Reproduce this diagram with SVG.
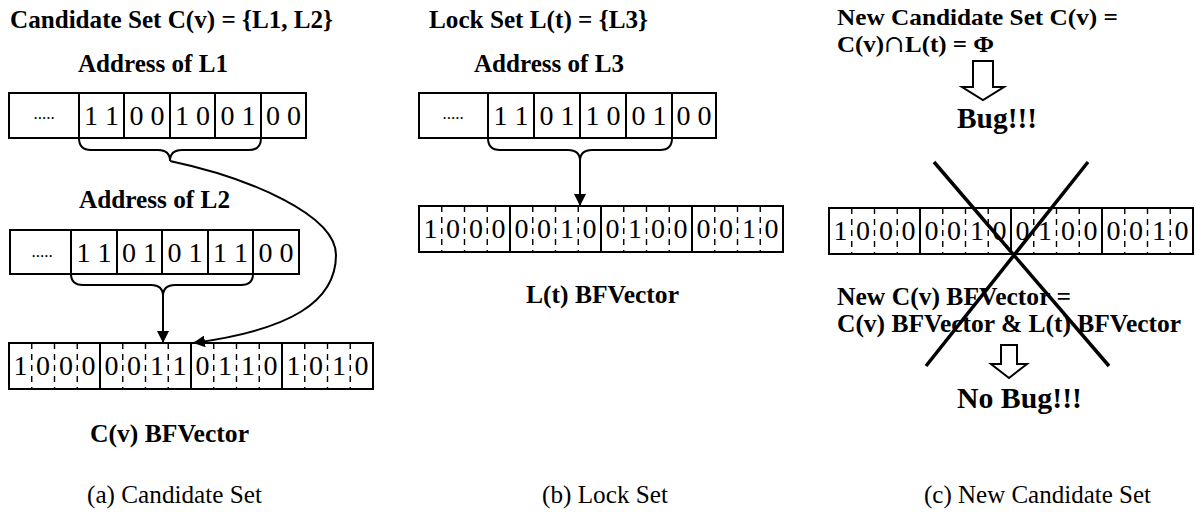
<svg xmlns="http://www.w3.org/2000/svg" xmlns:xlink="http://www.w3.org/1999/xlink" width="1196" height="512" viewBox="0 0 1196 512">
<style>
text{font-family:"Liberation Serif","Times New Roman",serif;fill:#000}
.b{font-weight:bold;font-size:25px}
.b2{font-weight:bold;font-size:24px}
.big{font-weight:bold;font-size:29.5px}
.cap{font-size:25px}
.bit{font-size:28px;text-anchor:middle}
.cell{font-size:28px;text-anchor:middle}
.dots{font-size:17px;text-anchor:middle}
.box{fill:#fff;stroke:#000;stroke-width:2}
.ln{fill:none;stroke:#000;stroke-width:2}
.dash{stroke:#000;stroke-width:1.4;stroke-dasharray:6 5}
.hollow{fill:#fff;stroke:#000;stroke-width:2;stroke-linejoin:miter}
.x{stroke:#000;stroke-width:3.5;fill:none}
</style>
<defs>
<marker id="ah" viewBox="0 0 12 12" refX="12" refY="6" markerWidth="12" markerHeight="12" markerUnits="userSpaceOnUse" orient="auto">
<path d="M0,0 L12,6 L0,12 z" fill="#000"/>
</marker>
<g id="grid">
<rect class="box" x="0" y="0" width="364" height="46"/>
<path class="ln" d="M91,0V46M182,0V46M273,0V46"/>
<path class="dash" d="M22.75,0V46M45.5,0V46M68.25,0V46M113.75,0V46M136.5,0V46M159.25,0V46M204.75,0V46M227.5,0V46M250.25,0V46M295.75,0V46M318.5,0V46M341.25,0V46"/>
</g>
</defs>

<g id="panel-a-title"><text class="b" x="10" y="28" textLength="323" lengthAdjust="spacingAndGlyphs">Candidate Set C(v) = {L1, L2}</text></g>
<g id="label-addr-l1"><text class="b" x="78" y="72" textLength="150" lengthAdjust="spacingAndGlyphs">Address of L1</text></g>
<g id="addr-l1">
<rect class="box" x="9" y="93" width="297" height="45"/>
<path class="ln" d="M79,93V138M124,93V138M170,93V138M215,93V138M261,93V138"/>
<text class="dots" x="44" y="119">.....</text>
<text class="cell" x="101.5" y="125">1 1</text>
<text class="cell" x="147" y="125">0 0</text>
<text class="cell" x="192.5" y="125">1 0</text>
<text class="cell" x="238" y="125">0 1</text>
<text class="cell" x="283.5" y="125">0 0</text>
</g>
<g id="label-addr-l2"><text class="b" x="79" y="208" textLength="151" lengthAdjust="spacingAndGlyphs">Address of L2</text></g>
<g id="addr-l2">
<rect class="box" x="10" y="230" width="289" height="44"/>
<path class="ln" d="M71,230V274M117,230V274M162,230V274M208,230V274M253,230V274"/>
<text class="dots" x="42" y="257">.....</text>
<text class="cell" x="94" y="262">1 1</text>
<text class="cell" x="139.5" y="262">0 1</text>
<text class="cell" x="185" y="262">0 1</text>
<text class="cell" x="230.5" y="262">1 1</text>
<text class="cell" x="276" y="262">0 0</text>
</g>
<g id="vector-cv">
<use xlink:href="#grid" x="9" y="343"/>
<g transform="translate(9,343)">
<text class="bit" x="11.4" y="32">1</text><text class="bit" x="34.1" y="32">0</text><text class="bit" x="56.9" y="32">0</text><text class="bit" x="79.6" y="32">0</text>
<text class="bit" x="102.4" y="32">0</text><text class="bit" x="125.1" y="32">0</text><text class="bit" x="147.9" y="32">1</text><text class="bit" x="170.6" y="32">1</text>
<text class="bit" x="193.4" y="32">0</text><text class="bit" x="216.1" y="32">1</text><text class="bit" x="238.9" y="32">1</text><text class="bit" x="261.6" y="32">0</text>
<text class="bit" x="284.4" y="32">1</text><text class="bit" x="307.1" y="32">0</text><text class="bit" x="329.9" y="32">1</text><text class="bit" x="352.6" y="32">0</text>
</g>
</g>
<g id="label-cv"><text class="b" x="90" y="442" textLength="159" lengthAdjust="spacingAndGlyphs">C(v) BFVector</text></g>
<g id="caption-a"><text class="cap" x="87" y="503" textLength="175" lengthAdjust="spacingAndGlyphs">(a) Candidate Set</text></g>

<g id="panel-b-title"><text class="b" x="429" y="28" textLength="219" lengthAdjust="spacingAndGlyphs">Lock Set L(t) = {L3}</text></g>
<g id="label-addr-l3"><text class="b" x="474" y="72" textLength="150" lengthAdjust="spacingAndGlyphs">Address of L3</text></g>
<g id="addr-l3">
<rect class="box" x="419" y="93" width="297" height="45"/>
<path class="ln" d="M488,93V138M534,93V138M580,93V138M626,93V138M672,93V138"/>
<text class="dots" x="453" y="119">.....</text>
<text class="cell" x="511" y="125">1 1</text>
<text class="cell" x="557" y="125">0 1</text>
<text class="cell" x="603" y="125">1 0</text>
<text class="cell" x="649" y="125">0 1</text>
<text class="cell" x="694" y="125">0 0</text>
</g>
<g id="vector-lt">
<use xlink:href="#grid" x="419" y="206"/>
<g transform="translate(419,206)">
<text class="bit" x="11.4" y="32">1</text><text class="bit" x="34.1" y="32">0</text><text class="bit" x="56.9" y="32">0</text><text class="bit" x="79.6" y="32">0</text>
<text class="bit" x="102.4" y="32">0</text><text class="bit" x="125.1" y="32">0</text><text class="bit" x="147.9" y="32">1</text><text class="bit" x="170.6" y="32">0</text>
<text class="bit" x="193.4" y="32">0</text><text class="bit" x="216.1" y="32">1</text><text class="bit" x="238.9" y="32">0</text><text class="bit" x="261.6" y="32">0</text>
<text class="bit" x="284.4" y="32">0</text><text class="bit" x="307.1" y="32">0</text><text class="bit" x="329.9" y="32">1</text><text class="bit" x="352.6" y="32">0</text>
</g>
</g>
<g id="label-lt"><text class="b" x="526" y="303" textLength="153" lengthAdjust="spacingAndGlyphs">L(t) BFVector</text></g>
<g id="caption-b"><text class="cap" x="542" y="503" textLength="126" lengthAdjust="spacingAndGlyphs">(b) Lock Set</text></g>

<g id="panel-c-title">
<text class="b2" x="837" y="25" textLength="281" lengthAdjust="spacingAndGlyphs">New Candidate Set C(v) =</text>
<text class="b2" x="837" y="52" textLength="157" lengthAdjust="spacingAndGlyphs">C(v)<tspan font-family="DejaVu Serif" font-weight="normal">∩</tspan>L(t) = Φ</text>
</g>
<g id="result-bug"><text class="big" x="957" y="128" textLength="80" lengthAdjust="spacingAndGlyphs">Bug!!!</text></g>
<g id="vector-new">
<use xlink:href="#grid" x="829" y="208"/>
<g transform="translate(829,208)">
<text class="bit" x="11.4" y="32">1</text><text class="bit" x="34.1" y="32">0</text><text class="bit" x="56.9" y="32">0</text><text class="bit" x="79.6" y="32">0</text>
<text class="bit" x="102.4" y="32">0</text><text class="bit" x="125.1" y="32">0</text><text class="bit" x="147.9" y="32">1</text><text class="bit" x="170.6" y="32">0</text>
<text class="bit" x="193.4" y="32">0</text><text class="bit" x="216.1" y="32">1</text><text class="bit" x="238.9" y="32">0</text><text class="bit" x="261.6" y="32">0</text>
<text class="bit" x="284.4" y="32">0</text><text class="bit" x="307.1" y="32">0</text><text class="bit" x="329.9" y="32">1</text><text class="bit" x="352.6" y="32">0</text>
</g>
</g>
<g id="label-new">
<text class="b" x="837" y="305" textLength="234" lengthAdjust="spacingAndGlyphs">New C(v) BFVector =</text>
<text class="b" x="837" y="332" textLength="344" lengthAdjust="spacingAndGlyphs">C(v) BFVector &amp; L(t) BFVector</text>
</g>
<g id="result-nobug"><text class="big" x="957" y="408" textLength="125" lengthAdjust="spacingAndGlyphs">No Bug!!!</text></g>
<g id="caption-c"><text class="cap" x="924" y="503" textLength="227" lengthAdjust="spacingAndGlyphs">(c) New Candidate Set</text></g>

<g id="cross">
<line class="x" x1="934" y1="162" x2="1109" y2="366"/>
<line class="x" x1="1088" y1="162" x2="926" y2="366"/>
</g>

<g id="connectors">
<path class="ln" d="M79,138 Q79,150 91,150 L158,150 Q170,150 170,161 Q170,150 182,150 L249,150 Q261,150 261,138"/>
<path class="ln" d="M170,161 C250,178 336,215 336,255 C336,302 290,330 193,343" marker-end="url(#ah)"/>
<path class="ln" d="M71,274 Q71,285 83,285 L151,285 Q163,285 163,296 Q163,285 175,285 L241,285 Q253,285 253,274"/>
<line class="ln" x1="163" y1="296" x2="163" y2="343" marker-end="url(#ah)"/>
<path class="ln" d="M488,138 Q488,150 500,150 L568,150 Q580,150 580,161 Q580,150 592,150 L660,150 Q672,150 672,138"/>
<line class="ln" x1="580" y1="161" x2="580" y2="206" marker-end="url(#ah)"/>
<path class="hollow" d="M973,61 H993 V87 H1004 L983,100 L962,87 H973 Z"/>
<path class="hollow" d="M1001,345 H1017 V364 H1027 L1009,378 L991,364 H1001 Z"/>
</g>
</svg>
